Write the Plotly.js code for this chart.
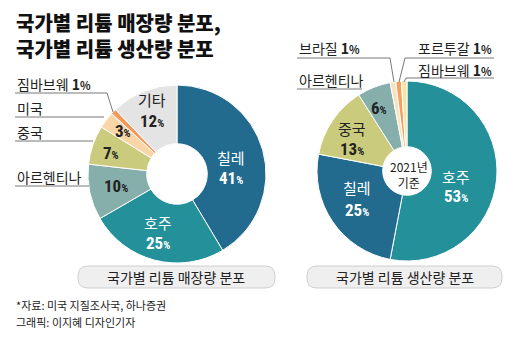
<!DOCTYPE html>
<html><head><meta charset="utf-8">
<script src="https://cdn.plot.ly/plotly-3.0.1.min.js"></script>
<style>html,body{margin:0;padding:0;background:#fff}#chart{width:520px;height:339px}</style>
</head><body><div id="chart"></div>
<script>
// ---- data ----
const reserveLabels = ['칠레','호주','아르헨티나','중국','미국','짐바브웨','기타'];
const reserveValues = [41, 25, 10, 7, 3, 1, 12];
const reserveColors = ['#226b8f','#23909a','#86afab','#cbcb7e','#f9d6a8','#f29a5c','#e4e4e4'];

const productionLabels = ['호주','칠레','중국','아르헨티나','브라질','포르투갈','짐바브웨'];
const productionValues = [53, 25, 13, 6, 1, 1, 1];
const productionColors = ['#23909a','#226b8f','#cbcb7e','#86afab','#f8e2bf','#f3a060','#f6e6a6'];

const titleLines = ['국가별 리튬 매장량 분포,', '국가별 리튬 생산량 분포'];
const subtitles = ['국가별 리튬 매장량 분포', '국가별 리튬 생산량 분포'];
const notes = ['*자료: 미국 지질조사국, 하나증권', '그래픽: 이지혜 디자인기자'];
const yearNote = '2021년<br>기준';

// ---- helpers ----
const W = 520, H = 339;
const px = x => x / W, py = y => 1 - y / H;
const KR = '"Noto Sans CJK KR", "Noto Sans", sans-serif';
const NUM = '"Liberation Sans Narrow", "Roboto Condensed", Arial, sans-serif';
const pct = v => `<b>${v}</b><span style="font-size:11px"><b>%</b></span>`;

const annotations = [];
function ann(x, y, text, opts) {
  annotations.push(Object.assign({xref:'paper', yref:'paper', x:px(x), y:py(y), text:text,
    showarrow:false, xanchor:'center', yanchor:'middle',
    font:{family:KR, size:14, color:'#222'}}, opts || {}));
}
const shapes = [];
function line(pts) {
  let d = 'M' + pts.map(p => px(p[0]) + ',' + py(p[1])).join(' L');
  shapes.push({type:'path', xref:'paper', yref:'paper', path:d, line:{color:'#555', width:0.8}});
}
function pill(x0, y0, x1, y1, r) {
  const P = (x, y) => px(x) + ',' + py(y);
  const d = `M${P(x0+r,y0)} L${P(x1-r,y0)} Q${P(x1,y0)} ${P(x1,y0+r)} L${P(x1,y1-r)} Q${P(x1,y1)} ${P(x1-r,y1)} L${P(x0+r,y1)} Q${P(x0,y1)} ${P(x0,y1-r)} L${P(x0,y0+r)} Q${P(x0,y0)} ${P(x0+r,y0)} Z`;
  shapes.push({type:'path', xref:'paper', yref:'paper', path:d, fillcolor:'#efefef', line:{color:'#cfcfcf', width:1}, layer:'below'});
}

const data = [
  {type:'pie', labels:reserveLabels, values:reserveValues, sort:false, direction:'clockwise', rotation:0,
   hole:0.34, marker:{colors:reserveColors, line:{color:'#fff', width:1}}, textinfo:'none', hoverinfo:'label+value',
   domain:{x:[px(88), px(266)], y:[py(263), py(85)]}, showlegend:false},
  {type:'pie', labels:productionLabels, values:productionValues, sort:false, direction:'clockwise', rotation:0,
   hole:0.27, marker:{colors:productionColors, line:{color:'#fff', width:1}}, textinfo:'none', hoverinfo:'label+value',
   domain:{x:[px(317), px(497)], y:[py(261), py(81)]}, showlegend:false}
];

// title (two lines in one block)
const tf = {family:KR, size:20, color:'#111', weight:900};
ann(14, 35, titleLines.join('<br>'), {xanchor:'left', align:'left', font:tf});

// left inside labels
const wf = {family:KR, size:15, color:'#fff'};
const df = {family:KR, size:15, color:'#222'};
const wn = {family:NUM, size:17, color:'#fff'};
const dn = {family:NUM, size:17, color:'#222'};
ann(231, 157, reserveLabels[0], {font:wf});
ann(231, 178, pct(reserveValues[0]), {font:wn});
ann(158, 222, reserveLabels[1], {font:wf});
ann(158, 243, pct(reserveValues[1]), {font:wn});
ann(152, 100, reserveLabels[6], {font:df});
ann(152, 121, pct(reserveValues[6]), {font:dn});
ann(123, 131, pct(reserveValues[4]), {font:dn});
ann(111, 153, pct(reserveValues[3]), {font:dn});
ann(116, 186, pct(reserveValues[2]), {font:dn});

// left outside labels
ann(15, 84, reserveLabels[5] + ' ' + pct(reserveValues[5]), {xanchor:'left'});
ann(15, 108, reserveLabels[4], {xanchor:'left'});
ann(15, 132, reserveLabels[3], {xanchor:'left'});
ann(15, 177, reserveLabels[2], {xanchor:'left'});
line([[15,93],[107,93],[113,112]]);
line([[15,117],[104,117]]);
line([[15,141],[93,141]]);
line([[15,186],[89,186]]);

// right inside labels
ann(456, 176, productionLabels[0], {font:wf});
ann(456, 196, pct(productionValues[0]), {font:wn});
ann(357, 187, productionLabels[1], {font:wf});
ann(357, 210, pct(productionValues[1]), {font:wn});
ann(352, 129, productionLabels[2], {font:df});
ann(352, 149, pct(productionValues[2]), {font:dn});
ann(379, 108, pct(productionValues[3]), {font:dn});
ann(409, 174, yearNote, {font:{family:KR, size:12, color:'#222'}});

// right outside labels
ann(297, 48, productionLabels[4] + ' ' + pct(productionValues[4]), {xanchor:'left'});
ann(494, 48, productionLabels[5] + ' ' + pct(productionValues[5]), {xanchor:'right'});
ann(494, 70, productionLabels[6] + ' ' + pct(productionValues[6]), {xanchor:'right'});
ann(297, 80, productionLabels[3], {xanchor:'left'});
line([[297,58],[390,58],[394,82]]);
line([[494,58],[405,58],[399,82]]);
line([[494,78],[406,78],[404,82]]);
line([[297,89],[362,89]]);

// subtitle pills
pill(78, 266, 275, 288, 10);
pill(307, 266, 502, 288, 10);
ann(176, 277, subtitles[0], {font:{family:KR, size:14, color:'#222'}});
ann(405, 277, subtitles[1], {font:{family:KR, size:14, color:'#222'}});

// notes
ann(14, 305, notes[0], {xanchor:'left', font:{family:KR, size:11, color:'#222'}});
ann(14, 322, notes[1], {xanchor:'left', font:{family:KR, size:11, color:'#222'}});

Plotly.newPlot('chart', data, {
  width:W, height:H, margin:{l:0, r:0, t:0, b:0}, paper_bgcolor:'#fff', plot_bgcolor:'#fff',
  annotations:annotations, shapes:shapes, showlegend:false
}, {staticPlot:true});
</script></body></html>
